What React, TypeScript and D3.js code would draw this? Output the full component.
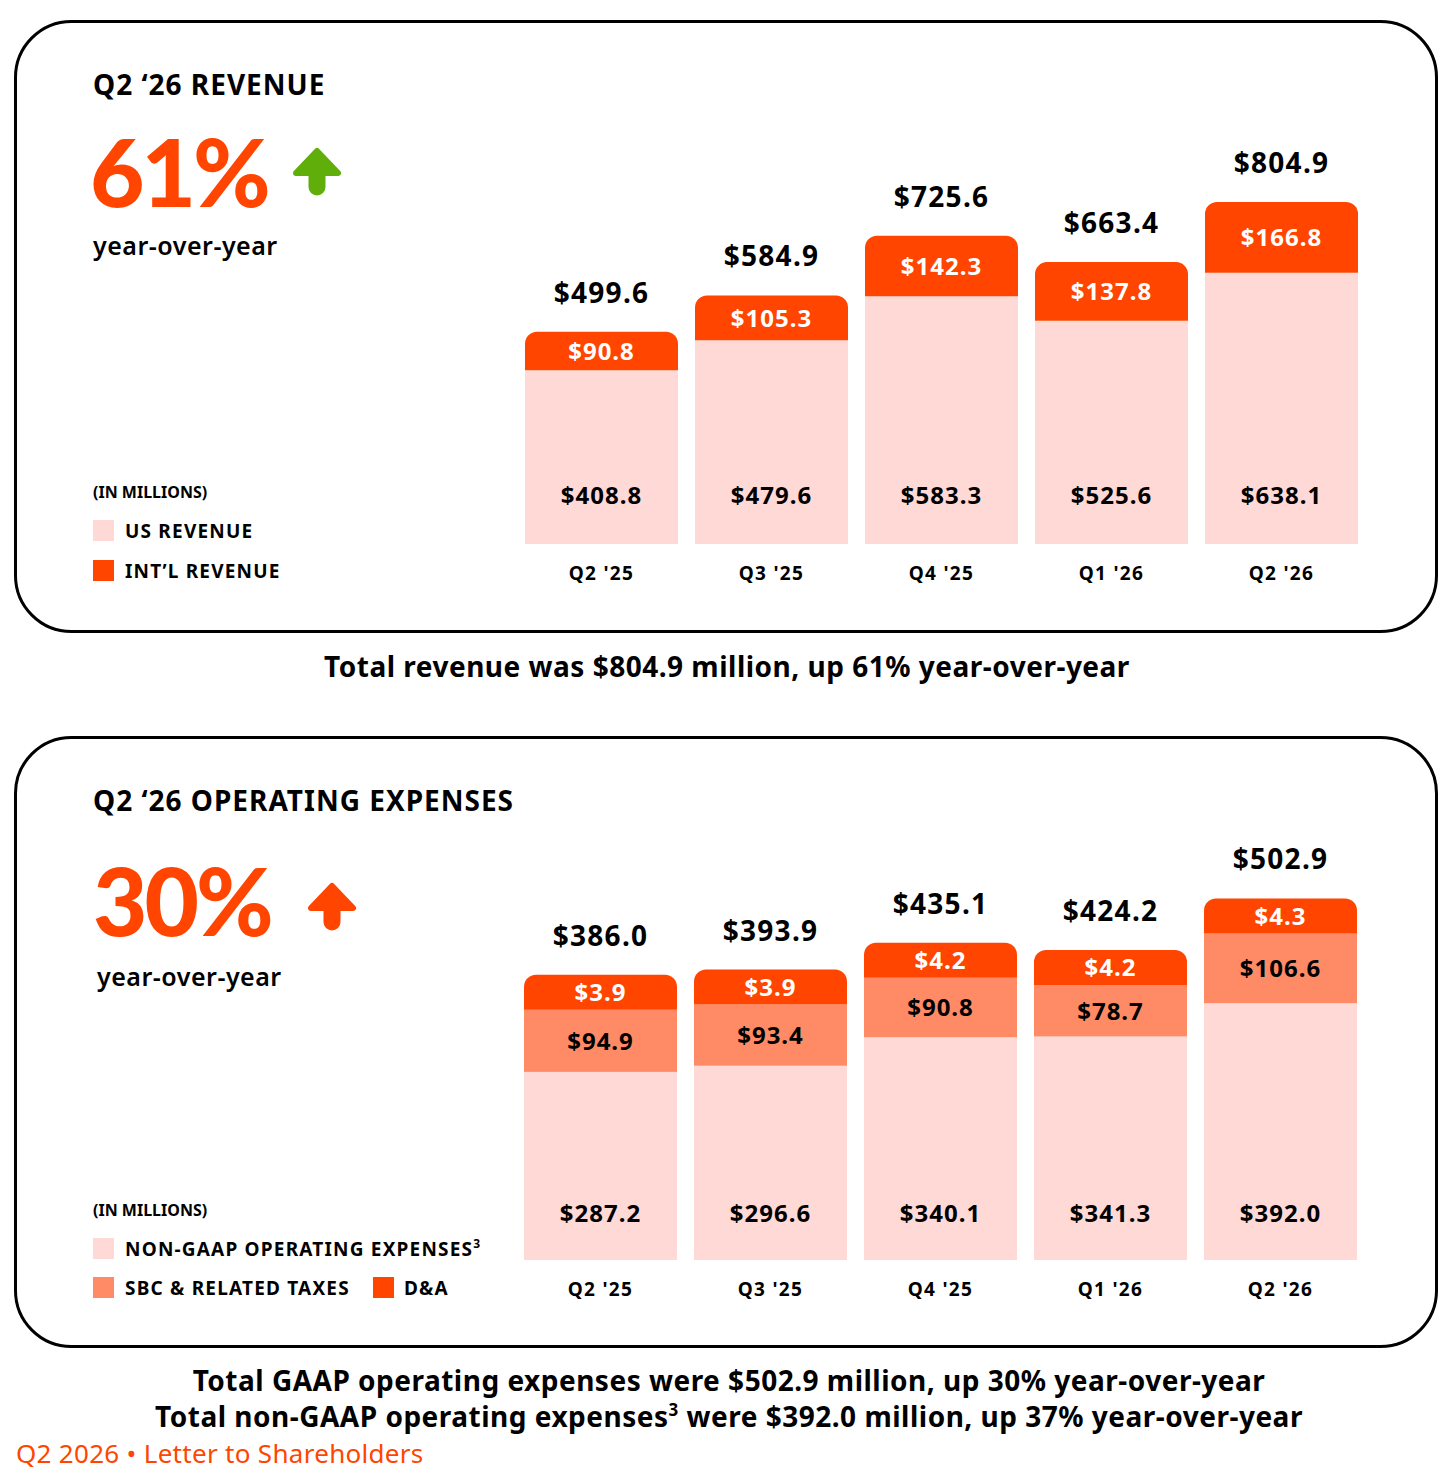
import React from 'react';
import * as d3 from 'd3';

// values in $ millions
const quarters = ["Q2 '25", "Q3 '25", "Q4 '25", "Q1 '26", "Q2 '26"];
const usRevenue = [408.8, 479.6, 583.3, 525.6, 638.1];
const intlRevenue = [90.8, 105.3, 142.3, 137.8, 166.8];
const totalRevenue = [499.6, 584.9, 725.6, 663.4, 804.9];

const nonGaapOpex = [287.2, 296.6, 340.1, 341.3, 392.0];
const sbcOpex = [94.9, 93.4, 90.8, 78.7, 106.6];
const daOpex = [3.9, 3.9, 4.2, 4.2, 4.3];
const totalOpex = [386.0, 393.9, 435.1, 424.2, 502.9];

const ORANGE = '#ff4500';
const PINK = '#ffd9d6';
const SALMON = '#ff8a66';
const GREEN = '#5fae0a';
const FONT = '"Noto Sans", Lato, sans-serif';
const BIG = 'Lato, "Noto Sans", sans-serif';

const fmt = (v: number) => '$' + v.toFixed(1);

// rect with rounded top corners only
function topRounded(x: number, y: number, w: number, h: number, r: number) {
  const p = d3.path();
  p.moveTo(x, y + h);
  p.lineTo(x, y + r);
  p.arcTo(x, y, x + r, y, r);
  p.lineTo(x + w - r, y);
  p.arcTo(x + w, y, x + w, y + r, r);
  p.lineTo(x + w, y + h);
  p.closePath();
  return p.toString();
}

function Arrow({ cx, top, color }: { cx: number; top: number; color: string }) {
  return (
    <g fill={color} stroke={color} strokeLinejoin="round" strokeLinecap="round">
      <path d={`M${cx - 21},${top + 25} L${cx},${top + 3} L${cx + 21},${top + 25} Z`} strokeWidth={6} />
      <line x1={cx} y1={top + 24} x2={cx} y2={top + 39} strokeWidth={17} />
    </g>
  );
}

function Panel({ y, h }: { y: number; h: number }) {
  return <rect x={15.5} y={y} width={1421} height={h} rx={56} fill="none" stroke="#000" strokeWidth={3} />;
}

function RevenueChart() {
  const x = d3.scaleBand<string>().domain(quarters).range([525, 1358]).paddingInner(0.1);
  const y = d3.scaleLinear().domain([0, 100]).range([544, 544 - 42.49]);
  const w = x.bandwidth();
  return (
    <g fontFamily={FONT} fontWeight={700} textAnchor="middle">
      {quarters.map((q, i) => {
        const x0 = x(q)!;
        const cx = x0 + w / 2;
        const usTop = y(usRevenue[i]);
        const top = y(usRevenue[i] + intlRevenue[i]);
        return (
          <g key={q}>
            <rect x={x0} y={usTop} width={w} height={y(0) - usTop} fill={PINK} />
            <path d={topRounded(x0, top, w, usTop - top, 12)} fill={ORANGE} />
            <text x={cx} y={(top + usTop) / 2 + 9} fontSize={24} letterSpacing={1} fill="#fff">{fmt(intlRevenue[i])}</text>
            <text x={cx} y={top - 29} fontSize={28} letterSpacing={1.3} fill="#000">{fmt(totalRevenue[i])}</text>
            <text x={cx} y={504} fontSize={24} letterSpacing={1} fill="#000">{fmt(usRevenue[i])}</text>
            <text x={cx} y={580} fontSize={19} letterSpacing={1.3} fill="#000">{q}</text>
          </g>
        );
      })}
    </g>
  );
}

function OpexChart() {
  const x = d3.scaleBand<string>().domain(quarters).range([524, 1357]).paddingInner(0.1);
  const y = d3.scaleLinear().domain([0, 100]).range([1260, 1260 - 65.5]);
  const w = x.bandwidth();
  const minBand = 35; // D&A is too thin to label, so it gets a minimum height
  return (
    <g fontFamily={FONT} fontWeight={700} textAnchor="middle">
      {quarters.map((q, i) => {
        const x0 = x(q)!;
        const cx = x0 + w / 2;
        const ngTop = y(nonGaapOpex[i]);
        const sbcTop = y(nonGaapOpex[i] + sbcOpex[i]);
        const daH = Math.max(y(0) - y(daOpex[i]), minBand);
        const top = sbcTop - daH;
        return (
          <g key={q}>
            <rect x={x0} y={ngTop} width={w} height={y(0) - ngTop} fill={PINK} />
            <rect x={x0} y={sbcTop} width={w} height={ngTop - sbcTop} fill={SALMON} />
            <path d={topRounded(x0, top, w, daH, 12)} fill={ORANGE} />
            <text x={cx} y={top + daH / 2 + 9} fontSize={24} letterSpacing={1} fill="#fff">{fmt(daOpex[i])}</text>
            <text x={cx} y={(sbcTop + ngTop) / 2 + 9} fontSize={24} letterSpacing={1} fill="#000">{fmt(sbcOpex[i])}</text>
            <text x={cx} y={top - 29} fontSize={28} letterSpacing={1.3} fill="#000">{fmt(totalOpex[i])}</text>
            <text x={cx} y={1222} fontSize={24} letterSpacing={1} fill="#000">{fmt(nonGaapOpex[i])}</text>
            <text x={cx} y={1296} fontSize={19} letterSpacing={1.3} fill="#000">{q}</text>
          </g>
        );
      })}
    </g>
  );
}

export default function App() {
  return (
    <svg width={1456} height={1480} style={{ position: 'absolute', left: 0, top: 0, background: '#fff' }}>
      <rect width={1456} height={1480} fill="#fff" />
      <Panel y={21.5} h={610} />
      <Panel y={737.5} h={609} />

      {/* revenue header */}
      <g fontFamily={FONT} fontWeight={700}>
        <text x={93} y={95} fontSize={28} letterSpacing={1}>Q2 ‘26 REVENUE</text>
        <text x={90} y={207} fontSize={94} fontFamily={BIG} fontWeight={900} fill={ORANGE} letterSpacing={-3}>61%</text>
        <text x={93} y={255} fontSize={25} fontWeight={600} letterSpacing={0.5}>year-over-year</text>
        <text x={93} y={498} fontSize={16}>(IN MILLIONS)</text>
        <g fontSize={19} letterSpacing={1.2}>
          <rect x={93} y={520} width={21} height={21} fill={PINK} />
          <text x={125} y={538}>US REVENUE</text>
          <rect x={93} y={560} width={21} height={21} fill={ORANGE} />
          <text x={125} y={578}>INT’L REVENUE</text>
        </g>
      </g>
      <Arrow cx={317} top={148} color={GREEN} />
      <RevenueChart />

      <text x={727} y={677} fontFamily={FONT} fontWeight={700} fontSize={28} letterSpacing={0.5} textAnchor="middle">
        Total revenue was $804.9 million, up 61% year-over-year
      </text>

      {/* opex header */}
      <g fontFamily={FONT} fontWeight={700}>
        <text x={93} y={811} fontSize={28} letterSpacing={1}>Q2 ‘26 OPERATING EXPENSES</text>
        <text x={93} y={936} fontSize={94} fontFamily={BIG} fontWeight={900} fill={ORANGE} letterSpacing={-3}>30%</text>
        <text x={97} y={986} fontSize={25} fontWeight={600} letterSpacing={0.5}>year-over-year</text>
        <text x={93} y={1216} fontSize={16}>(IN MILLIONS)</text>
        <g fontSize={19} letterSpacing={1.2}>
          <rect x={93} y={1238} width={21} height={21} fill={PINK} />
          <text x={125} y={1256}>
            NON-GAAP OPERATING EXPENSES<tspan fontSize={12} dy={-8}>3</tspan>
          </text>
          <rect x={93} y={1277} width={21} height={21} fill={SALMON} />
          <text x={125} y={1295}>SBC &amp; RELATED TAXES</text>
          <rect x={373} y={1277} width={21} height={21} fill={ORANGE} />
          <text x={404} y={1295}>D&amp;A</text>
        </g>
      </g>
      <Arrow cx={332} top={883} color={ORANGE} />
      <OpexChart />

      <g fontFamily={FONT} fontWeight={700} fontSize={28} letterSpacing={0.5} textAnchor="middle">
        <text x={729} y={1391}>Total GAAP operating expenses were $502.9 million, up 30% year-over-year</text>
        <text x={729} y={1427}>
          Total non-GAAP operating expenses<tspan fontSize={17} dy={-11}>3</tspan>
          <tspan dy={11}> were $392.0 million, up 37% year-over-year</tspan>
        </text>
      </g>
      <text x={16} y={1463} fontFamily={FONT} fontSize={26} letterSpacing={0.3} fill={ORANGE}>Q2 2026 • Letter to Shareholders</text>
    </svg>
  );
}
